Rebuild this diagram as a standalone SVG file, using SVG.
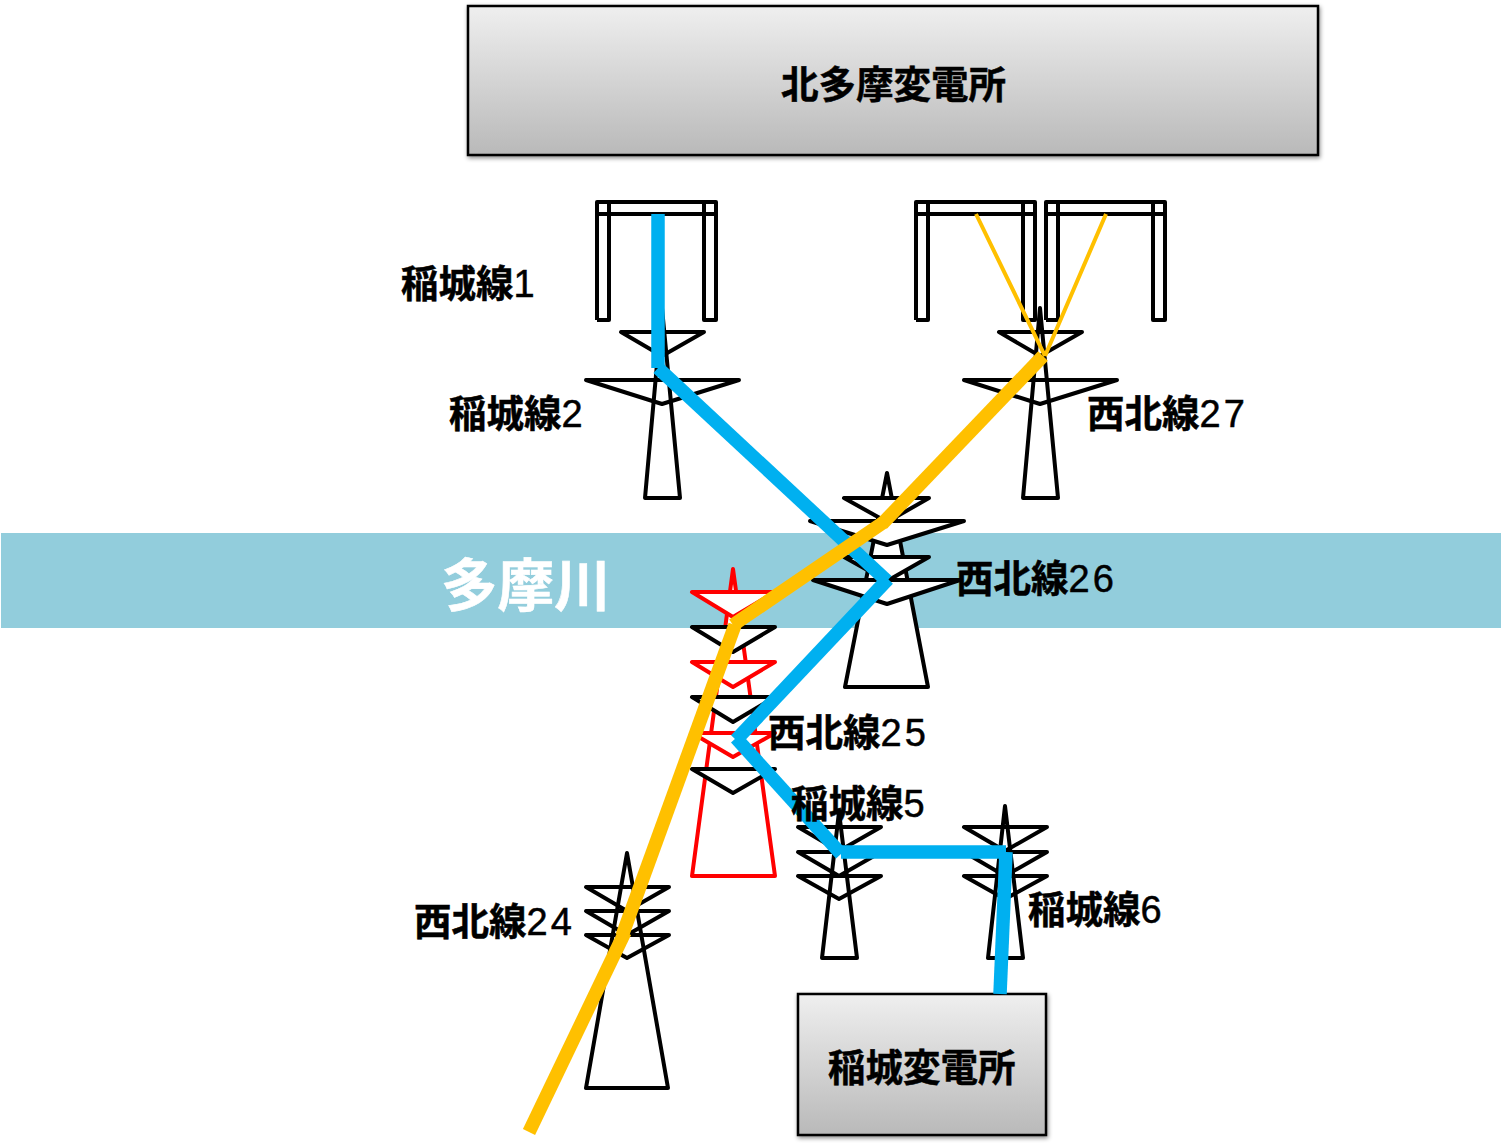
<svg xmlns="http://www.w3.org/2000/svg" width="1502" height="1147" viewBox="0 0 1502 1147">
<style>
.t{font-family:"Noto Sans CJK JP","Noto Sans",sans-serif;font-weight:700;font-size:37.5px;fill:#000;stroke:#000;stroke-width:.5}
.d{font-family:"Liberation Sans",sans-serif;font-weight:400;font-size:38px;stroke:#000;stroke-width:.5;letter-spacing:3px}
.k{fill:none;stroke:#000;stroke-width:4;stroke-linejoin:round}
.a{fill:#fff;stroke:#000;stroke-width:4;stroke-linejoin:round}
.r{fill:#fff;stroke:#f00;stroke-width:4;stroke-linejoin:round}
.box{stroke:#000;stroke-width:2.5;fill:url(#g);filter:url(#s)}
.b{fill:none;stroke:#00B0F0;stroke-width:13.5}
.o{fill:none;stroke:#FFC000;stroke-width:13.5}
</style>
<defs>
<linearGradient id="g" x1="0" y1="0" x2="0" y2="1"><stop offset="0" stop-color="#efefef"/><stop offset="1" stop-color="#b9b9b9"/></linearGradient>
<filter id="s" x="-5%" y="-5%" width="110%" height="112%"><feDropShadow dx="1" dy="2" stdDeviation="2" flood-color="#000" flood-opacity=".45"/></filter>
</defs>
<rect id="river" x="1" y="533" width="1500" height="95" fill="#92CDDC"/>
<text x="441" y="606" style="font-family:'Noto Sans CJK JP',sans-serif;font-weight:700;font-size:56.5px;fill:#fff;stroke:#fff;stroke-width:.6">多摩川</text>
<g id="kitatama"><rect class="box" x="468" y="6" width="850" height="149"/><text class="t" x="781" y="97.500">北多摩変電所</text></g>
<g id="inagi-ss"><rect class="box" x="798" y="994" width="248" height="141"/><text class="t" x="828" y="1080.500">稲城変電所</text></g>
<g id="gantry-1"><path class="k" d="M597 214H716M597 320V202H716V320H704V202M609 202V320H597"/></g>
<g id="gantry-2"><path class="k" d="M916 214H1035M916 320V202H1035V320H1023V202M928 202V320H916"/></g>
<g id="gantry-3"><path class="k" d="M1046 214H1165M1046 320V202H1165V320H1153V202M1058 202V320H1046"/></g>
<g id="inagi-2"><path class="k" d="M621 332H704L662 356ZM586 380H739L662 404Z"/><path class="k" d="M662 308L645 498H680Z"/></g>
<g id="seihoku-27"><path class="k" d="M999 332H1082L1040 356ZM964 380H1117L1040 404Z"/><path class="k" d="M1040 308L1023 498H1058Z"/></g>
<g id="seihoku-26"><path class="a" d="M887 473L845 687H928Z"/><path class="a" d="M844 498H929L887 522Z"/><path class="a" d="M810 521H964L887 545Z"/><path class="a" d="M844 557H929L887 581Z"/><path class="a" d="M813 580H960L887 604Z"/></g>
<g id="seihoku-25"><path class="r" d="M733 569L692 876H775Z"/><path class="r" d="M692 592H775L733 617Z"/><path class="a" d="M692 627H775L733 652Z"/><path class="r" d="M692 662H775L733 687Z"/><path class="a" d="M692 697H775L733 722Z"/><path class="r" d="M692 733H775L733 757Z"/><path class="a" d="M692 769H775L733 793Z"/></g>
<g id="inagi-5"><path class="k" d="M798 827H881L839 851ZM798 852H881L839 876ZM798 876H881L839 899Z"/><path class="k" d="M839 812L822 958H857Z"/></g>
<g id="inagi-6"><path class="k" d="M964 827H1047L1005 851ZM964 852H1047L1005 876ZM964 876H1047L1005 899Z"/><path class="k" d="M1005 806L988 958H1023Z"/></g>
<g id="seihoku-24"><path class="k" d="M586 887H669L627 911ZM586 911H669L627 935ZM586 935H669L627 958Z"/><path class="k" d="M627 853L586 1088H668Z"/></g>
<g id="connectors">
<path class="b" d="M658 214V368"/><path class="b" d="M658 368L887 581"/><path class="b" d="M888 579L736 740"/><path class="b" d="M736 738L841 854"/><path class="b" d="M841 852H1006"/><path class="b" d="M1006 852L1000 994"/>
<path d="M976 214L1045 356M1106 214L1045 356" fill="none" stroke="#FFC000" stroke-width="4"/>
<path class="o" d="M1043 356L882 524"/><path class="o" d="M884 522L733 625"/><path class="o" d="M735 625L622 936"/><path class="o" d="M625 932L529 1132"/>
</g>
<g id="labels">
<text class="t" x="401" y="296.500">稲城線<tspan class="d">1</tspan></text>
<text class="t" x="449" y="426.500">稲城線<tspan class="d">2</tspan></text>
<text class="t" x="1087" y="426.500">西北線<tspan class="d">27</tspan></text>
<text class="t" x="956" y="591.500">西北線<tspan class="d">26</tspan></text>
<text class="t" x="768" y="745.500">西北線<tspan class="d">25</tspan></text>
<text class="t" x="791" y="816.500">稲城線<tspan class="d">5</tspan></text>
<text class="t" x="1028" y="922.500">稲城線<tspan class="d">6</tspan></text>
<text class="t" x="414" y="934.500">西北線<tspan class="d">24</tspan></text>
</g>
</svg>
